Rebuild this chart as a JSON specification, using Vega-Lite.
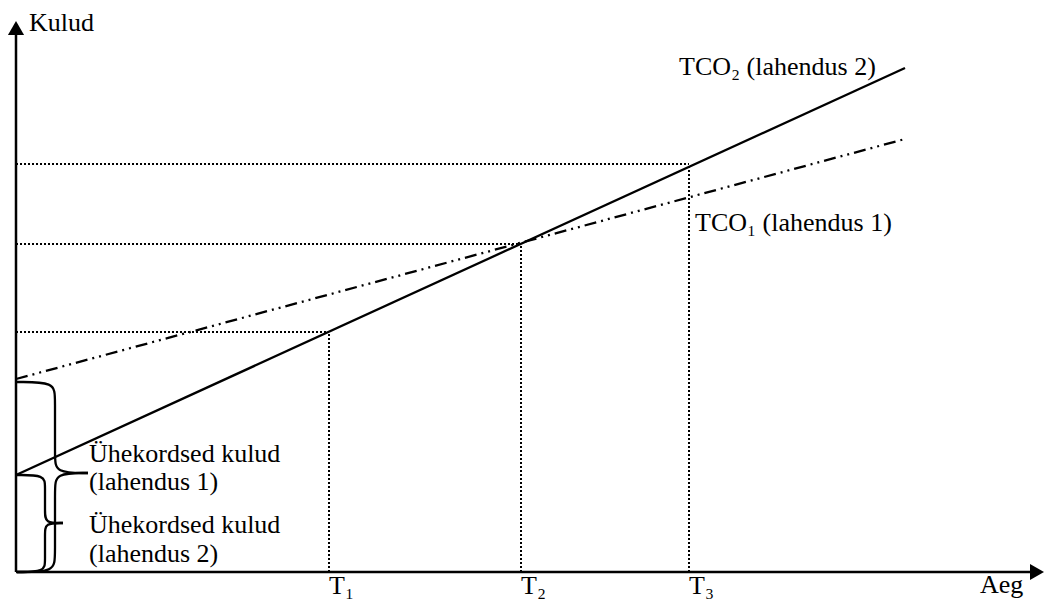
{
  "$schema": "https://vega.github.io/schema/vega-lite/v6.json",
  "width": 1028,
  "height": 552,
  "autosize": {"type": "none"},
  "padding": {"left": 16, "top": 20, "right": 0, "bottom": 29},
  "background": "white",
  "config": {"view": {"stroke": null}},
  "datasets": {
    "lines": [
      {"series": "TCO2", "x": 0, "y": 97},
      {"series": "TCO2", "x": 889, "y": 504},
      {"series": "TCO1", "x": 0, "y": 193},
      {"series": "TCO1", "x": 889, "y": 433}
    ],
    "guides": [
      {"x": 0, "y": 240, "x2": 313, "y2": 240},
      {"x": 313, "y": 0, "x2": 313, "y2": 240},
      {"x": 0, "y": 328, "x2": 505, "y2": 328},
      {"x": 505, "y": 0, "x2": 505, "y2": 328},
      {"x": 0, "y": 408, "x2": 673, "y2": 408},
      {"x": 673, "y": 0, "x2": 673, "y2": 408}
    ],
    "axes": [
      {"x": 0, "y": 0, "x2": 0, "y2": 538},
      {"x": 0, "y": 0, "x2": 1020, "y2": 0}
    ],
    "arrows": [
      {"x": 0, "y": 544, "shape": "triangle-up"},
      {"x": 1021, "y": 0, "shape": "triangle-right"}
    ],
    "braces": [
      {"part": "b1u", "i": 0, "x": 1, "y": 190},
      {"part": "b1u", "i": 1, "x": 39, "y": 190},
      {"part": "b1u", "i": 2, "x": 39, "y": 174},
      {"part": "b1u", "i": 3, "x": 39, "y": 115},
      {"part": "b1u", "i": 4, "x": 39, "y": 99},
      {"part": "b1u", "i": 5, "x": 72, "y": 99},
      {"part": "b1l", "i": 0, "x": 72, "y": 99},
      {"part": "b1l", "i": 1, "x": 39, "y": 99},
      {"part": "b1l", "i": 2, "x": 39, "y": 83},
      {"part": "b1l", "i": 3, "x": 39, "y": 16},
      {"part": "b1l", "i": 4, "x": 39, "y": 0},
      {"part": "b1l", "i": 5, "x": 1, "y": 0},
      {"part": "b2u", "i": 0, "x": 1, "y": 97},
      {"part": "b2u", "i": 1, "x": 29, "y": 97},
      {"part": "b2u", "i": 2, "x": 29, "y": 86},
      {"part": "b2u", "i": 3, "x": 29, "y": 60},
      {"part": "b2u", "i": 4, "x": 29, "y": 49},
      {"part": "b2u", "i": 5, "x": 47, "y": 49},
      {"part": "b2l", "i": 0, "x": 47, "y": 49},
      {"part": "b2l", "i": 1, "x": 29, "y": 49},
      {"part": "b2l", "i": 2, "x": 29, "y": 38},
      {"part": "b2l", "i": 3, "x": 29, "y": 11},
      {"part": "b2l", "i": 4, "x": 29, "y": 0},
      {"part": "b2l", "i": 5, "x": 1, "y": 0}
    ],
    "labels": [
      {"text": "Kulud", "x": 13, "y": 541},
      {"text": "TCO₂ (lahendus 2)", "x": 663, "y": 497},
      {"text": "TCO₁ (lahendus 1)", "x": 679, "y": 341},
      {"text": "Ühekordsed kulud", "x": 73, "y": 110},
      {"text": "(lahendus 1)", "x": 73, "y": 82},
      {"text": "Ühekordsed kulud", "x": 73, "y": 39},
      {"text": "(lahendus 2)", "x": 73, "y": 10},
      {"text": "T₁", "x": 313, "y": -22},
      {"text": "T₂", "x": 505, "y": -22},
      {"text": "T₃", "x": 673, "y": -22},
      {"text": "Aeg", "x": 964, "y": -21}
    ]
  },
  "encoding": {
    "x": {"field": "x", "type": "quantitative", "scale": {"domain": [0, 1028], "nice": false, "zero": false}, "axis": null},
    "y": {"field": "y", "type": "quantitative", "scale": {"domain": [0, 552], "nice": false, "zero": false}, "axis": null}
  },
  "layer": [
    {
      "data": {"name": "guides"},
      "mark": {"type": "rule", "color": "black", "strokeWidth": 2, "strokeDash": [2, 2]},
      "encoding": {"x2": {"field": "x2"}, "y2": {"field": "y2"}}
    },
    {
      "data": {"name": "lines"},
      "transform": [{"filter": "datum.series === 'TCO1'"}],
      "mark": {"type": "line", "color": "black", "strokeWidth": 2.3, "strokeDash": [12, 5, 2, 5, 2, 5]}
    },
    {
      "data": {"name": "lines"},
      "transform": [{"filter": "datum.series === 'TCO2'"}],
      "mark": {"type": "line", "color": "black", "strokeWidth": 2.3}
    },
    {
      "data": {"name": "braces"},
      "mark": {"type": "line", "color": "black", "strokeWidth": 2.3, "interpolate": "basis"},
      "encoding": {"detail": {"field": "part"}, "order": {"field": "i", "type": "quantitative"}}
    },
    {
      "data": {"name": "axes"},
      "mark": {"type": "rule", "color": "black", "strokeWidth": 2.5},
      "encoding": {"x2": {"field": "x2"}, "y2": {"field": "y2"}}
    },
    {
      "data": {"name": "arrows"},
      "mark": {"type": "point", "filled": true, "color": "black", "opacity": 1, "size": 260},
      "encoding": {"shape": {"field": "shape", "type": "nominal", "scale": null}}
    },
    {
      "data": {"name": "labels"},
      "mark": {"type": "text", "align": "left", "baseline": "alphabetic", "font": "Liberation Serif", "fontSize": 26, "color": "black"},
      "encoding": {"text": {"field": "text"}}
    }
  ]
}
